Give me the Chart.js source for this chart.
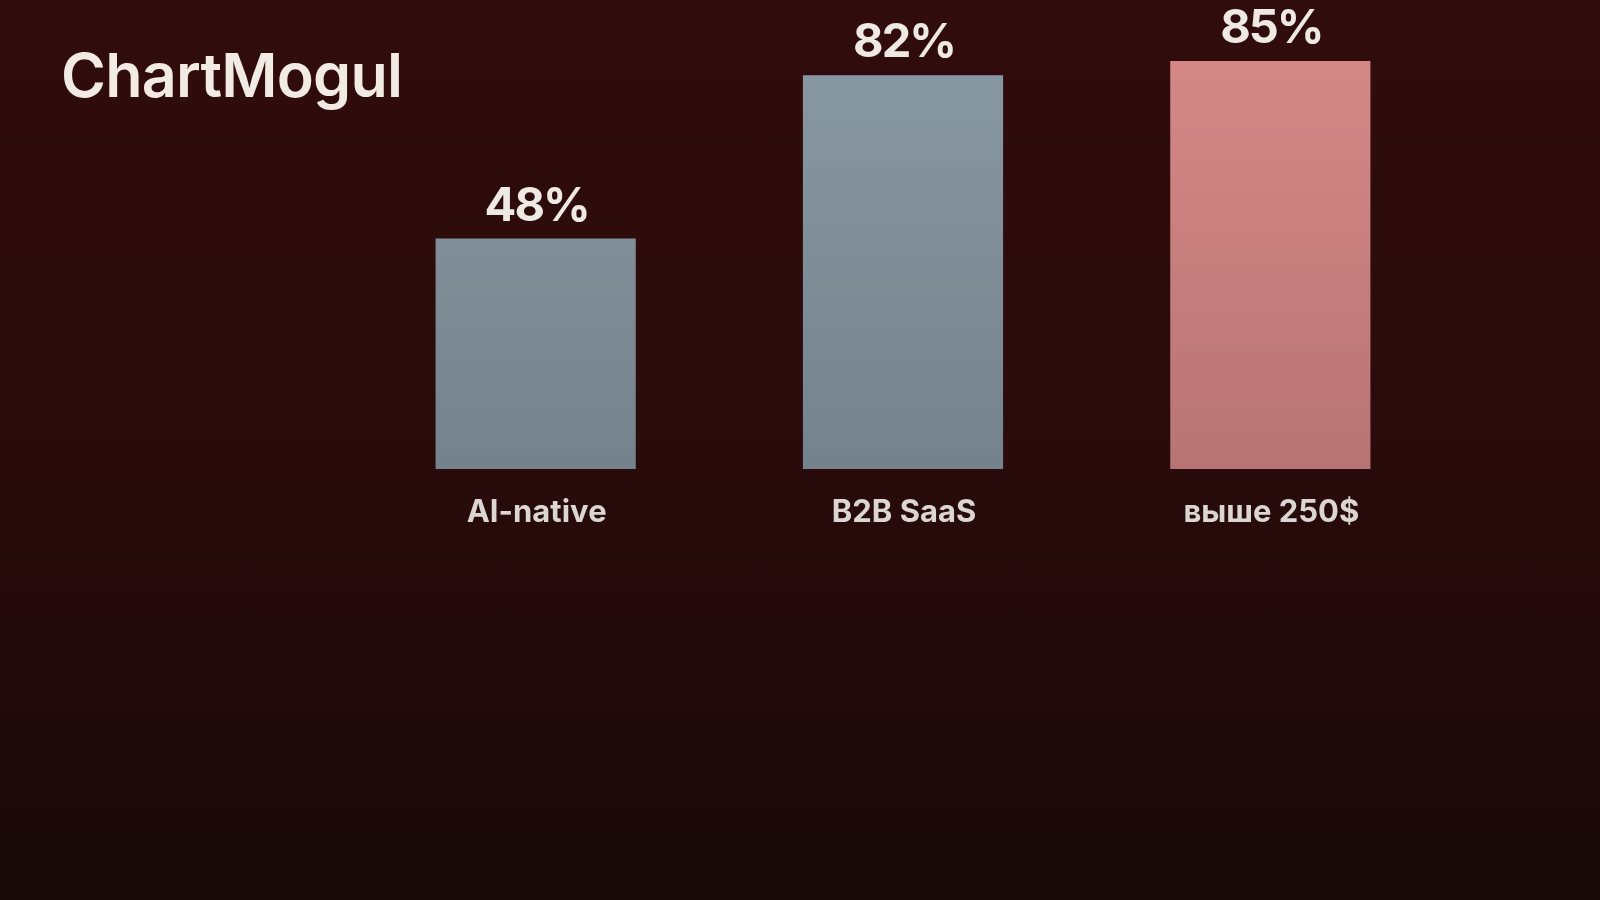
<!DOCTYPE html>
<html>
<head>
<meta charset="utf-8">
<script src="https://cdn.jsdelivr.net/npm/chart.js@4"></script>
<style>
  html, body { margin: 0; padding: 0; }
  body {
    width: 1600px; height: 900px; overflow: hidden; position: relative;
    background: linear-gradient(180deg, #310c0c 0%, #2a0b0b 50%, #180909 100%);
  }
  #logo {
    position: absolute; left: 61px; top: 38px;
    font-family: Inter, sans-serif; font-weight: 600; font-size: 61px;
    letter-spacing: -0.8px; color: #f1ebe4;
  }
  #wrap { position: absolute; left: 0; top: 0; width: 1600px; height: 900px; }
</style>
</head>
<body>
<div id="logo">ChartMogul</div>
<div id="wrap"><canvas id="chart"></canvas></div>
<script>
const categories = ["AI-native", "B2B SaaS", "выше 250$"];
const values = [48, 82, 85];
const valueLabels = ["48%", "82%", "85%"];

const ctx = document.getElementById('chart').getContext('2d');

function barGradient(chart, i) {
  const area = chart.chartArea;
  if (!area) return '#7f8e97';
  const g = chart.ctx.createLinearGradient(0, area.top, 0, area.bottom);
  if (i === 2) {
    g.addColorStop(0, '#d98b89');
    g.addColorStop(1, '#b87474');
  } else {
    g.addColorStop(0, '#8b9ba5');
    g.addColorStop(1, '#74828b');
  }
  return g;
}

const labelPlugin = {
  id: 'labels',
  afterDatasetsDraw(chart) {
    const c = chart.ctx;
    const meta = chart.getDatasetMeta(0);
    const xs = chart.scales.x;
    c.save();
    c.textAlign = 'center';
    c.textBaseline = 'alphabetic';
    meta.data.forEach((bar, i) => {
      c.fillStyle = '#efe9e4';
      c.font = 'bold 47px Inter, sans-serif';
      c.letterSpacing = '-2px';
      c.fillText(valueLabels[i], bar.x + 1, bar.y - 18);
      c.fillStyle = '#dcd6d2';
      c.font = 'bold 31px Inter, sans-serif';
      c.letterSpacing = '0px';
      c.fillText(categories[i], xs.getPixelForValue(i) + 1, 522);
    });
    c.restore();
  }
};

new Chart(ctx, {
  type: 'bar',
  data: {
    labels: categories,
    datasets: [{
      data: values,
      backgroundColor: (c) => barGradient(c.chart, c.dataIndex),
      borderWidth: 0,
      barPercentage: 0.545,
      categoryPercentage: 1
    }]
  },
  options: {
    responsive: true,
    maintainAspectRatio: false,
    animation: false,
    layout: { padding: { left: 352, right: 146, top: 0, bottom: 431 } },
    scales: {
      x: { display: false },
      y: { display: false, min: 0, max: 97.7 }
    },
    plugins: {
      legend: { display: false },
      tooltip: { enabled: false }
    }
  },
  plugins: [labelPlugin]
});
</script>
</body>
</html>
